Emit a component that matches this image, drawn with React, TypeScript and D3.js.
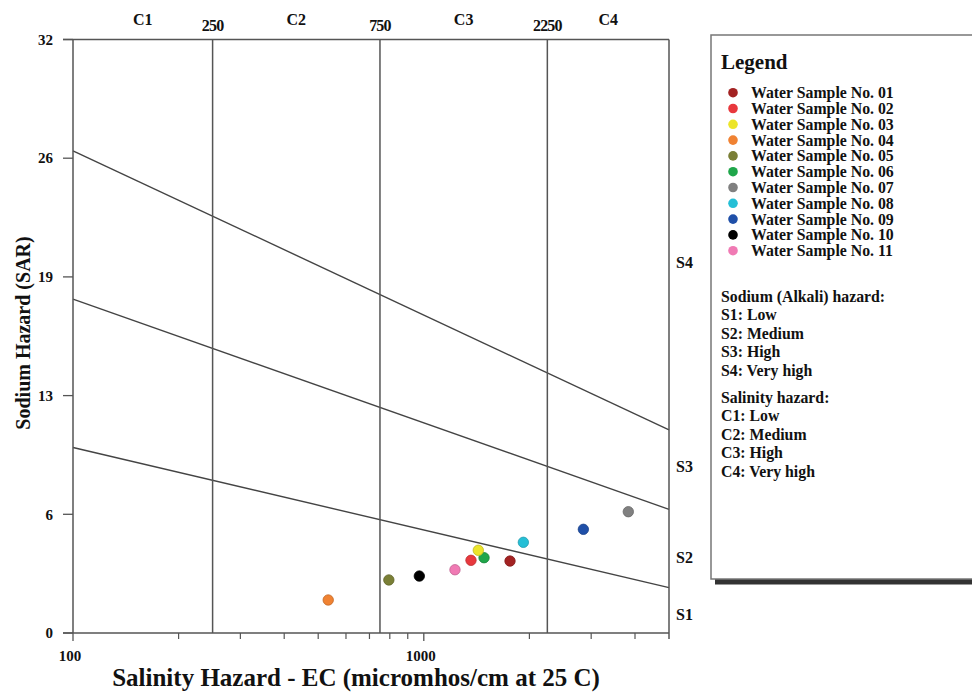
import React from "react";
import * as d3 from "d3";

// ---- data ----
const sampleNames = [
  "Water Sample No. 01", "Water Sample No. 02", "Water Sample No. 03", "Water Sample No. 04",
  "Water Sample No. 05", "Water Sample No. 06", "Water Sample No. 07", "Water Sample No. 08",
  "Water Sample No. 09", "Water Sample No. 10", "Water Sample No. 11",
];
const sampleEC = [1761, 1363, 1430, 534, 795, 1485, 3828, 1922, 2850, 971, 1227];
const sampleSAR = [3.88, 3.92, 4.46, 1.78, 2.86, 4.06, 6.54, 4.89, 5.59, 3.07, 3.41];
const sampleColors = [
  "#a32222", "#e8383d", "#ece52a", "#f08232", "#7a7f36", "#1fa64a",
  "#808080", "#25bfd6", "#1f4fa8", "#000000", "#f07ab4",
];

const ecBoundaries = [250, 750, 2250];
const ecBoundaryLabels = ["250", "750", "2250"];
const classEC = [158, 433, 1299, 3354];
const classLabels = ["C1", "C2", "C3", "C4"];

const boundaryEC = [100, 5000];
const boundaryS1S2 = [10.0, 2.45];
const boundaryS2S3 = [18.0, 6.67];
const boundaryS3S4 = [26.0, 10.95];

const sLabelSAR = [1.0, 4.1, 9.0, 20.0];
const sLabels = ["S1", "S2", "S3", "S4"];

const yTickValues = [0, 6.4, 12.8, 19.2, 25.6, 32];
const yTickLabels = ["0", "6", "13", "19", "26", "32"];
const xMinorTicks = [200, 300, 400, 500, 600, 700, 800, 900, 2000, 3000, 4000];
const xMajorTicks = [100, 1000];

const sodiumLines = ["Sodium (Alkali) hazard:", "S1: Low", "S2: Medium", "S3: High", "S4: Very high"];
const salinityLines = ["Salinity hazard:", "C1: Low", "C2: Medium", "C3: High", "C4: Very high"];

const FONT = "'Liberation Serif', 'Times New Roman', serif";

export default function App() {
  const left = 73, right = 669, top = 39.5, bottom = 633;
  const x = d3.scaleLog().domain([100, 5000]).range([left, right]);
  const y = d3.scaleLinear().domain([0, 32]).range([bottom, top]);
  const line = d3.line<[number, number]>().x((d) => x(d[0])).y((d) => y(d[1]));
  const boundaries = [boundaryS1S2, boundaryS2S3, boundaryS3S4];
  const order = d3.range(sampleNames.length).reverse();

  const lgX = 711, lgY = 35, lgBottom = 579;

  return (
    <svg width={972} height={692} style={{ position: "absolute", left: 0, top: 0, background: "#fff" }}
      fontFamily={FONT} fontWeight="bold">
      <rect x={0} y={0} width={972} height={692} fill="#fff" />
      {/* boundary sodium lines */}
      {boundaries.map((b, i) => (
        <path key={i} d={line(boundaryEC.map((e, j) => [e, b[j]] as [number, number])) || ""}
          fill="none" stroke="#444" strokeWidth={1.4} />
      ))}
      {/* salinity verticals */}
      {ecBoundaries.map((e, i) => (
        <line key={i} x1={x(e)} x2={x(e)} y1={top} y2={bottom} stroke="#555" strokeWidth={1.5} />
      ))}
      {/* frame */}
      <line x1={left - 10} x2={right} y1={top} y2={top} stroke="#555" strokeWidth={1.5} />
      <line x1={left - 10} x2={right} y1={bottom} y2={bottom} stroke="#555" strokeWidth={1.5} />
      <line x1={left} x2={left} y1={top} y2={bottom} stroke="#555" strokeWidth={1.5} />
      <line x1={right} x2={right} y1={top} y2={bottom + 6} stroke="#555" strokeWidth={1.5} />
      {/* y ticks */}
      {yTickValues.map((v, i) => (
        <g key={i}>
          <line x1={left - 10} x2={left} y1={y(v)} y2={y(v)} stroke="#555" strokeWidth={1.3} />
          <text x={left - 20} y={y(v)} dy="0.35em" textAnchor="end" fontSize={15} fill="#111">{yTickLabels[i]}</text>
        </g>
      ))}
      {/* x ticks */}
      {xMinorTicks.map((v, i) => (
        <line key={i} x1={x(v)} x2={x(v)} y1={bottom} y2={bottom + 6} stroke="#555" strokeWidth={1.2} />
      ))}
      {xMajorTicks.map((v, i) => (
        <g key={i}>
          <line x1={x(v)} x2={x(v)} y1={bottom} y2={bottom + 8} stroke="#555" strokeWidth={1.3} />
          <text x={x(v) - 3} y={656} dy="0.35em" textAnchor="middle" fontSize={15} fill="#111">{d3.format("d")(v)}</text>
        </g>
      ))}
      {/* top labels */}
      {ecBoundaries.map((e, i) => (
        <text key={i} x={x(e)} y={25} dy="0.35em" textAnchor="middle" fontSize={16} fill="#111" letterSpacing={-0.8}>{ecBoundaryLabels[i]}</text>
      ))}
      {classEC.map((e, i) => (
        <text key={i} x={x(e)} y={19} dy="0.35em" textAnchor="middle" fontSize={16} fill="#111">{classLabels[i]}</text>
      ))}
      {/* S labels */}
      {sLabelSAR.map((v, i) => (
        <text key={i} x={676} y={y(v)} dy="0.35em" fontSize={16} fill="#111">{sLabels[i]}</text>
      ))}
      {/* points */}
      {order.map((i) => (
        <circle key={i} cx={x(sampleEC[i])} cy={y(sampleSAR[i])} r={5.2} fill={sampleColors[i]}
          stroke={d3.color(sampleColors[i])!.darker(0.6).formatHex()} strokeWidth={0.8} />
      ))}
      {/* axis titles */}
      <text transform={`translate(23,333) rotate(-90)`} dy="0.35em" textAnchor="middle" fontSize={20} fill="#111">Sodium Hazard (SAR)</text>
      <text x={356} y={677} dy="0.35em" textAnchor="middle" fontSize={25} fill="#111">Salinity Hazard - EC (micromhos/cm at 25 C)</text>
      {/* legend */}
      <rect x={lgX + 4} y={lgBottom} width={300} height={5.5} fill="#333" />
      <rect x={lgX} y={lgY} width={300} height={lgBottom - lgY} fill="#fff" stroke="#777" strokeWidth={1.5} />
      <text x={721} y={62} dy="0.35em" fontSize={21} fill="#111">Legend</text>
      {sampleNames.map((n, i) => (
        <g key={i}>
          <circle cx={733} cy={92.7 + i * 15.8} r={4.8} fill={sampleColors[i]} />
          <text x={751} y={92.7 + i * 15.8} dy="0.35em" fontSize={15.8} fill="#111">{n}</text>
        </g>
      ))}
      {sodiumLines.map((t, i) => (
        <text key={i} x={721} y={296 + i * 18.5} dy="0.35em" fontSize={15.8} fill="#111">{t}</text>
      ))}
      {salinityLines.map((t, i) => (
        <text key={i} x={721} y={397 + i * 18.5} dy="0.35em" fontSize={15.8} fill="#111">{t}</text>
      ))}
    </svg>
  );
}
